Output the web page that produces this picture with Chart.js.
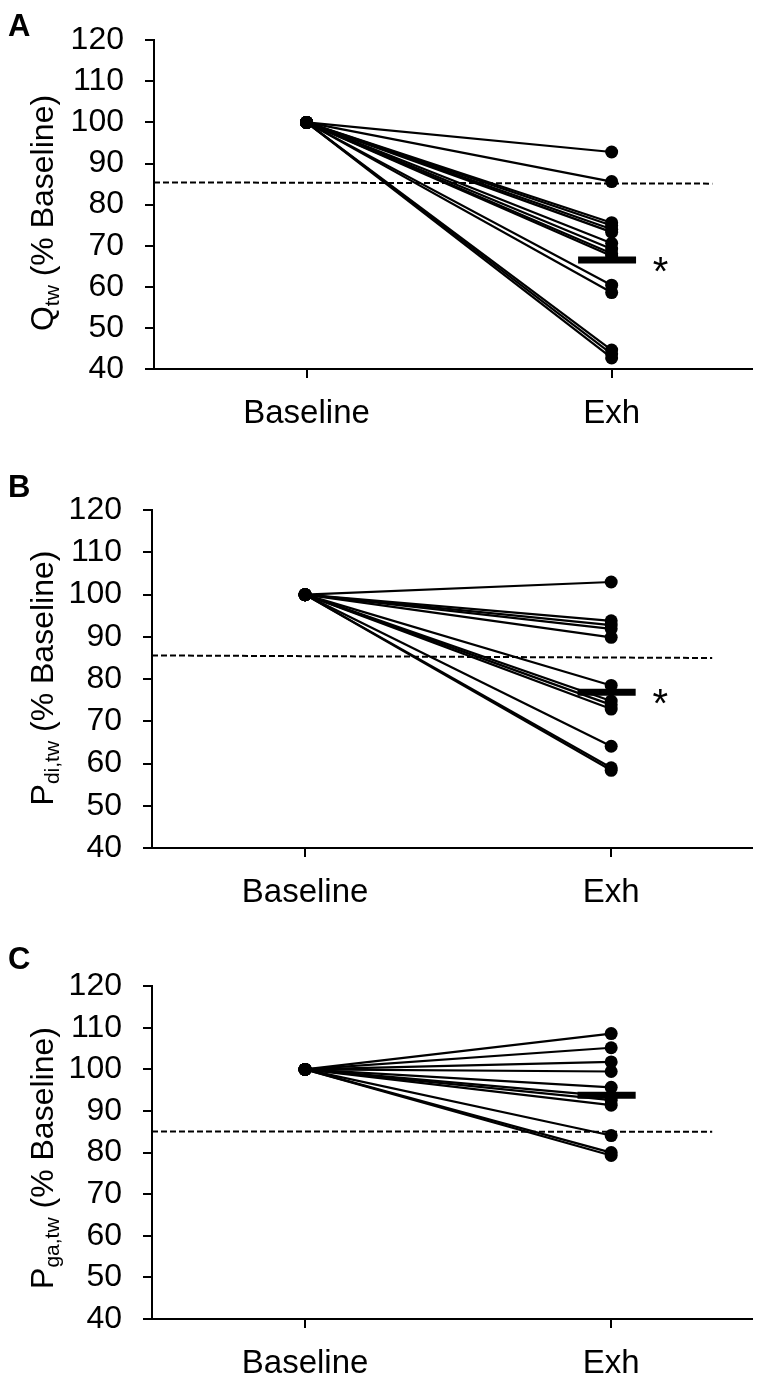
<!DOCTYPE html>
<html>
<head>
<meta charset="utf-8">
<script src="https://cdn.jsdelivr.net/npm/chart.js@4.4.0/dist/chart.umd.min.js"></script>
<style>
  body { margin: 0; background: #fff; width: 761px; height: 1379px; position: relative; overflow: hidden; }
  canvas { position: absolute; left: 0; }
</style>
</head>
<body>
<canvas id="graficoA" width="761" height="429" style="top:0px"></canvas>
<canvas id="graficoB" width="761" height="438" style="top:470px"></canvas>
<canvas id="graficoC" width="761" height="433" style="top:946px"></canvas>
<script>
// dados (% do baseline)
const grupos = ["Baseline", "Exh"];
const yTicks = [40, 50, 60, 70, 80, 90, 100, 110, 120];
const valorBaseline = 100;

const qtwExh = [92.8, 85.6, 75.6, 74.9, 74.0, 73.3, 70.6, 69.2, 68.1, 67.5, 60.4, 58.6, 44.6, 43.7, 42.7];
const pdiExh = [103.0, 93.8, 92.8, 91.9, 89.9, 78.5, 74.8, 73.9, 72.9, 64.1, 59.0, 58.4];
const pgaExh = [108.6, 105.2, 101.8, 99.5, 95.7, 93.5, 92.6, 91.4, 84.1, 80.0, 79.3];

const medias = [66.5, 76.9, 93.8];
const signif = ["*", "*", ""];
const linhaRef = [[85.4, 85.1], [85.6, 85.0], [85.1, 85.0]];

const letras = ["A", "B", "C"];
const tituloPrinc = ["Q", "P", "P"];
const tituloSub = ["tw", "di,tw", "ga,tw"];
const tituloResto = " (% Baseline)";

Chart.defaults.font.family = 'Arial, "Liberation Sans", sans-serif';
Chart.defaults.color = "#000";

// layout de cada painel (px no canvas)
const paineis = [
  { id: "graficoA", exh: qtwExh, padTop: 32, eixoY: 154, letraY: 36, tituloY: 213 },
  { id: "graficoB", exh: pdiExh, padTop: 27, eixoY: 152, letraY: 27, tituloY: 208 },
  { id: "graficoC", exh: pgaExh, padTop: 27, eixoY: 152, letraY: 23, tituloY: 212 },
];

function textosPlugin(i) {
  return {
    id: "textos" + i,
    afterDraw(chart) {
      const ctx = chart.ctx;
      ctx.save();
      ctx.fillStyle = "#000";

      // letra do painel
      ctx.font = 'bold 31px Arial, "Liberation Sans", sans-serif';
      ctx.textAlign = "left";
      ctx.textBaseline = "alphabetic";
      ctx.fillText(letras[i], 8, paineis[i].letraY);

      // titulo do eixo y com subscrito
      const fPrinc = '32px Arial, "Liberation Sans", sans-serif';
      const fSub = '21px Arial, "Liberation Sans", sans-serif';
      ctx.font = fPrinc;
      const w1 = ctx.measureText(tituloPrinc[i]).width;
      const w3 = ctx.measureText(tituloResto).width;
      ctx.font = fSub;
      const w2 = ctx.measureText(tituloSub[i]).width;
      const total = w1 + w2 + w3;
      ctx.translate(53, paineis[i].tituloY);
      ctx.rotate(-Math.PI / 2);
      let x = -total / 2;
      ctx.font = fPrinc;
      ctx.fillText(tituloPrinc[i], x, 0);
      x += w1;
      ctx.font = fSub;
      ctx.fillText(tituloSub[i], x, 6);
      x += w2;
      ctx.font = fPrinc;
      ctx.fillText(tituloResto, x, 0);
      ctx.restore();

      // asterisco de significancia
      if (signif[i]) {
        ctx.save();
        ctx.font = '40px Arial, "Liberation Sans", sans-serif';
        ctx.textAlign = "center";
        ctx.textBaseline = "alphabetic";
        const px = chart.scales.x.getPixelForValue(2.16);
        const py = chart.scales.y.getPixelForValue(medias[i]);
        ctx.fillText(signif[i], px, py + 25);
        ctx.restore();
      }
    },
  };
}

function criaGrafico(i) {
  const p = paineis[i];
  const datasets = [];

  // barra da media
  datasets.push({
    data: [{ x: 1.89, y: medias[i] }, { x: 2.08, y: medias[i] }],
    borderColor: "#000",
    borderWidth: 7,
    borderCapStyle: "butt",
    pointRadius: 0,
  });

  // um sujeito por linha
  p.exh.forEach((v) => {
    datasets.push({
      data: [{ x: 1, y: valorBaseline }, { x: 2, y: v }],
      borderColor: "#000",
      borderWidth: 2.2,
      pointRadius: 6.5,
      pointBackgroundColor: "#000",
      pointBorderColor: "#000",
      pointBorderWidth: 0,
    });
  });

  // linha tracejada de referencia
  datasets.push({
    data: [{ x: 0.5, y: linhaRef[i][0] }, { x: 2.33, y: linhaRef[i][1] }],
    borderColor: "#000",
    borderWidth: 2,
    borderDash: [6, 3],
    pointRadius: 0,
  });

  return new Chart(document.getElementById(p.id), {
    type: "line",
    data: { datasets },
    options: {
      responsive: false,
      animation: false,
      layout: { padding: { top: p.padTop, right: 9, left: 0, bottom: 0 } },
      plugins: { legend: { display: false }, tooltip: { enabled: false } },
      scales: {
        x: {
          type: "linear",
          min: 0.5,
          max: 2.46,
          afterBuildTicks: (s) => { s.ticks = [{ value: 1 }, { value: 2 }]; },
          afterFit: (s) => { s.height = 60; },
          ticks: {
            callback: (v) => grupos[v - 1],
            font: { size: 33 },
            color: "#000",
            padding: 16,
            maxRotation: 0,
            autoSkip: false,
          },
          grid: { drawOnChartArea: false, drawTicks: true, tickLength: 9, color: "#000", lineWidth: 2 },
          border: { display: true, color: "#000", width: 2 },
        },
        y: {
          min: yTicks[0],
          max: yTicks[yTicks.length - 1],
          afterBuildTicks: (s) => { s.ticks = yTicks.map((v) => ({ value: v })); },
          afterFit: (s) => { s.width = p.eixoY; },
          ticks: { font: { size: 32 }, color: "#000", padding: 21, autoSkip: false },
          grid: { drawOnChartArea: false, drawTicks: true, tickLength: 9, color: "#000", lineWidth: 2 },
          border: { display: true, color: "#000", width: 2 },
        },
      },
    },
    plugins: [textosPlugin(i)],
  });
}

paineis.forEach((_, i) => criaGrafico(i));
</script>
</body>
</html>
